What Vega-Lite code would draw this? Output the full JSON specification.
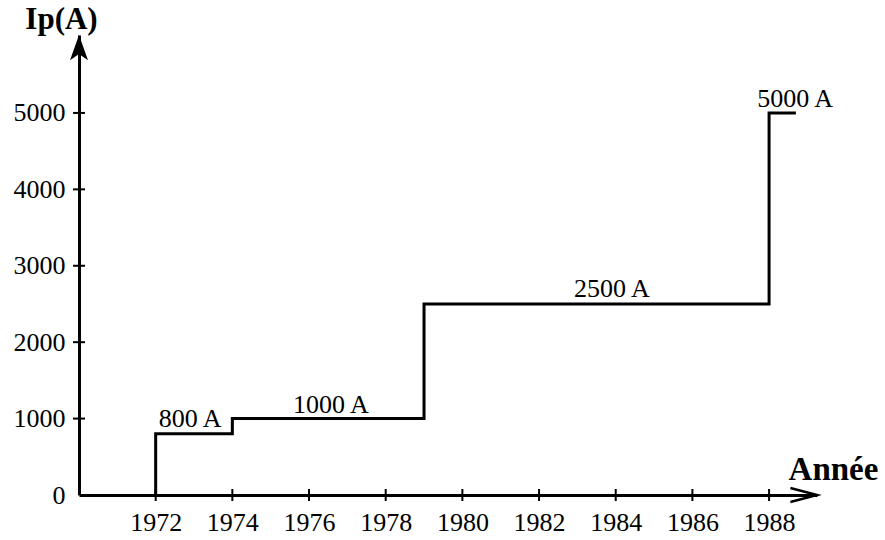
{
  "$schema": "https://vega.github.io/schema/vega-lite/v6.json",
  "width": 738,
  "height": 460,
  "autosize": "none",
  "padding": {"left": 79, "top": 35, "right": 68, "bottom": 45},
  "background": "white",
  "config": {
    "view": {"stroke": null},
    "font": "Liberation Serif",
    "axis": {"grid": false, "domainColor": "black", "domainWidth": 3, "ticks": false, "labelColor": "black", "labelFont": "Liberation Serif", "labelFontSize": 26, "titleFont": "Liberation Serif", "titleColor": "black", "titleFontWeight": "bold"}
  },
  "datasets": {
    "steps": [
      {"year": 1972, "ip": 0},
      {"year": 1972, "ip": 800},
      {"year": 1974, "ip": 1000},
      {"year": 1979, "ip": 2500},
      {"year": 1988, "ip": 5000},
      {"year": 1988.7, "ip": 5000}
    ],
    "notes": [
      {"year": 1972.9, "ip": 890, "label": "800 A"},
      {"year": 1976.57, "ip": 1073, "label": "1000 A"},
      {"year": 1983.9, "ip": 2591, "label": "2500 A"},
      {"year": 1988.68, "ip": 5078, "label": "5000 A"}
    ],
    "xticks": [
      {"year": 1972, "ip": 0}, {"year": 1974, "ip": 0}, {"year": 1976, "ip": 0}, {"year": 1978, "ip": 0}, {"year": 1980, "ip": 0},
      {"year": 1982, "ip": 0}, {"year": 1984, "ip": 0}, {"year": 1986, "ip": 0}, {"year": 1988, "ip": 0}
    ],
    "yticks": [
      {"year": 1970, "ip": 1000}, {"year": 1970, "ip": 2000}, {"year": 1970, "ip": 3000}, {"year": 1970, "ip": 4000}, {"year": 1970, "ip": 5000}
    ],
    "yarrow": [{"year": 1970, "ip": 6020}],
    "xarrow": [{"year": 1989.25, "ip": 0}]
  },
  "encoding": {
    "x": {
      "field": "year", "type": "quantitative",
      "scale": {"domain": [1970, 1989.25], "nice": false, "zero": false},
      "axis": {"values": [1972, 1974, 1976, 1978, 1980, 1982, 1984, 1986, 1988], "format": "d", "labelPadding": 14, "title": "Année", "titleFontSize": 33, "titleAngle": 0, "titleX": 754, "titleY": -26, "titleAlign": "center", "titleBaseline": "middle", "labelFlush": false}
    },
    "y": {
      "field": "ip", "type": "quantitative",
      "scale": {"domain": [0, 6020], "nice": false},
      "axis": {"values": [0, 1000, 2000, 3000, 4000, 5000], "format": "d", "labelPadding": 14, "title": "Ip(A)", "titleFontSize": 31, "titleAngle": 0, "titleX": -18, "titleY": -16, "titleAlign": "center", "titleBaseline": "middle", "labelFlush": false}
    }
  },
  "layer": [
    {
      "data": {"name": "steps"},
      "mark": {"type": "line", "interpolate": "step-after", "color": "black", "strokeWidth": 3}
    },
    {
      "data": {"name": "notes"},
      "mark": {"type": "text", "font": "Liberation Serif", "fontSize": 26, "color": "black", "align": "center", "baseline": "alphabetic"},
      "encoding": {"text": {"field": "label"}}
    },
    {
      "data": {"name": "xticks"},
      "mark": {"type": "tick", "orient": "vertical", "color": "black", "size": 12, "thickness": 2, "opacity": 1}
    },
    {
      "data": {"name": "yticks"},
      "mark": {"type": "tick", "orient": "horizontal", "color": "black", "size": 12, "thickness": 2, "opacity": 1}
    },
    {
      "data": {"name": "yarrow"},
      "mark": {"type": "point", "shape": "M0,0L-0.5,1.4L0,1.05L0.5,1.4Z", "filled": true, "color": "black", "size": 1296, "opacity": 1, "strokeWidth": 0}
    },
    {
      "data": {"name": "xarrow"},
      "mark": {"type": "point", "shape": "M-1.4,-0.37L0,0L-1.4,0.37", "filled": false, "color": "black", "size": 1444, "opacity": 1, "strokeWidth": 2.5}
    }
  ]
}
